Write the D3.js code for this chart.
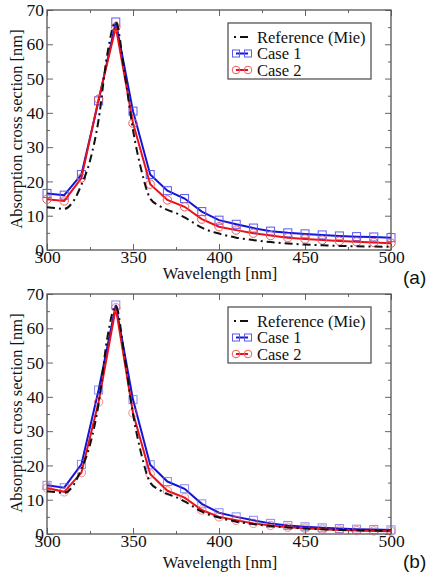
<!DOCTYPE html>
<html>
<head>
<meta charset="utf-8">
<script src="https://cdn.jsdelivr.net/npm/d3@7"></script>
<style>
  body { margin: 0; background: #fff; }
  svg { display: block; }
  text { font-family: "Liberation Serif", "Times New Roman", serif; fill: #111; }
  text.panel { font-family: "Liberation Sans", Arial, sans-serif; }
</style>
</head>
<body>
<script>
// data
const wavelengths = [300, 310, 320, 330, 340, 350, 360, 370, 380, 390, 400,
                     410, 420, 430, 440, 450, 460, 470, 480, 490, 500]

// reference (Mie) curve, drawn without markers
const mieWl = [300, 305, 310, 315, 320, 325, 330, 335, 340, 345, 350, 355, 360, 365, 370,
               375, 380, 385, 390, 395, 400, 410, 420, 430, 440, 450, 460, 470, 480, 490, 500]
const mieRef = [12.5, 12.2, 12, 14, 19, 26, 38, 57, 66.5, 52, 35, 23, 15, 13, 11.7,
                10.8, 9.5, 8, 6.5, 5.5, 4.8, 3.6, 2.9, 2.3, 1.9, 1.6, 1.4, 1.2, 1.1, 1.0, 0.9]

// panel (a)
const case1a = [16.5, 16, 22, 43.5, 66.5, 40.5, 22, 17.3, 15, 11.2, 8.7,
                7.5, 6.4, 5.5, 5.0, 4.7, 4.4, 4.1, 3.9, 3.8, 3.6]
const case2a = [14.8, 14.3, 21, 44, 65, 37, 19.2, 14.6, 12.6, 9.0, 6.8,
                5.8, 4.9, 4.2, 3.6, 3.2, 2.9, 2.6, 2.4, 2.2, 2.0]

// panel (b)
const case1b = [14.2, 13.5, 20.3, 42, 66.8, 39.2, 20.2, 15.3, 13.2, 8.8, 6.2,
                5.0, 4.0, 3.1, 2.5, 2.1, 1.8, 1.6, 1.4, 1.3, 1.2]
const case2b = [13.4, 12.3, 17.9, 38.5, 66, 35.3, 17.5, 12.6, 10.6, 7.0, 5.0,
                4.0, 3.1, 2.5, 2.0, 1.7, 1.4, 1.2, 1.0, 0.9, 0.8]

const xMajor = [300, 350, 400, 450, 500]
const xMinor = [325, 375, 425, 475]
const yMajor = [0, 10, 20, 30, 40, 50, 60, 70]
const yMinor = [5, 15, 25, 35, 45, 55, 65]
const legendNames = ["Reference (Mie)", "Case 1", "Case 2"]

const width = 426, height = 573

const svg = d3.select("body").append("svg")
  .attr("width", width)
  .attr("height", height)

svg.append("rect").attr("width", width).attr("height", height).attr("fill", "#fff")

const blue = "#1414d8", red = "#e8101a"
const blueMk = "#5a5aee", redMk = "#f05a5a"

function drawPanel(top, c1, c2, label, mkOpacity, titleDy) {
  const left = 47, right = 391, h = 240
  const x = d3.scaleLinear().domain([300, 500]).range([left, right])
  const y = d3.scaleLinear().domain([0, 70]).range([top + h, top])

  const g = svg.append("g")

  // ###########################
  // ticks on all four sides, inside
  // ###########################
  const axes = [
    { axis: d3.axisBottom(x), pos: top + h, horiz: true, labels: true, major: xMajor, minor: xMinor },
    { axis: d3.axisTop(x), pos: top, horiz: true, labels: false, major: xMajor, minor: xMinor },
    { axis: d3.axisLeft(y), pos: left, horiz: false, labels: true, major: yMajor, minor: yMinor },
    { axis: d3.axisRight(y), pos: right, horiz: false, labels: false, major: yMajor, minor: yMinor }
  ]
  axes.forEach(function (a) {
    const tr = a.horiz ? `translate(0,${a.pos})` : `translate(${a.pos},0)`
    const major = g.append("g").attr("transform", tr)
      .call(a.axis.tickValues(a.major).tickSize(-6).tickSizeOuter(0)
        .tickPadding(a.horiz ? 1 : 3)
        .tickFormat(a.labels ? d3.format("d") : ""))
    major.select(".domain").remove()
    major.selectAll("line").attr("stroke", "#666")
    major.selectAll("text").attr("font-size", 17.5)

    const minor = g.append("g").attr("transform", tr)
      .call(a.axis.tickValues(a.minor).tickSize(-3).tickFormat(""))
    minor.select(".domain").remove()
    minor.selectAll("line").attr("stroke", "#666")
  })

  g.append("rect")
    .attr("x", left).attr("y", top)
    .attr("width", right - left).attr("height", h)
    .attr("fill", "none").attr("stroke", "#555").attr("stroke-width", 1.3)

  // ######
  // curves
  // ######
  const line = d3.line().x(d => x(d[0])).y(d => y(d[1]))
  const pts1 = wavelengths.map((w, i) => [w, c1[i]])
  const pts2 = wavelengths.map((w, i) => [w, c2[i]])

  g.append("path")
    .datum(pts1)
    .attr("d", line).attr("fill", "none")
    .attr("stroke", blue).attr("stroke-width", 2)

  g.selectAll(".sq")
    .data(pts1)
    .enter().append("rect")
    .attr("x", d => x(d[0]) - 4).attr("y", d => y(d[1]) - 4)
    .attr("width", 8).attr("height", 8)
    .attr("fill", "none").attr("stroke", blueMk).attr("stroke-width", 1)
    .attr("opacity", mkOpacity)

  g.append("path")
    .datum(pts2)
    .attr("d", line).attr("fill", "none")
    .attr("stroke", red).attr("stroke-width", 2)

  g.selectAll(".ci")
    .data(pts2)
    .enter().append("circle")
    .attr("cx", d => x(d[0])).attr("cy", d => y(d[1])).attr("r", 4.2)
    .attr("fill", "none").attr("stroke", redMk).attr("stroke-width", 1)
    .attr("opacity", mkOpacity)

  g.append("path")
    .datum(mieWl.map((w, i) => [w, mieRef[i]]))
    .attr("d", d3.line().x(d => x(d[0])).y(d => y(d[1])).curve(d3.curveMonotoneX))
    .attr("fill", "none")
    .attr("stroke", "#111").attr("stroke-width", 2)
    .attr("stroke-dasharray", "8,4,2,4")

  // ##########
  // axis texts
  // ##########
  g.append("text")
    .attr("x", (left + right) / 2 + 1).attr("y", top + h + titleDy)
    .attr("text-anchor", "middle").attr("font-size", 16.5)
    .text("Wavelength [nm]")

  g.append("text")
    .attr("transform", `translate(22,${top + h / 2 - 1}) rotate(-90)`)
    .attr("text-anchor", "middle").attr("font-size", 16.5)
    .text("Absorption cross section [nm]")

  g.append("text")
    .attr("class", "panel")
    .attr("x", 403).attr("y", top + h + 34)
    .attr("font-size", 19)
    .text(label)

  // ######
  // legend
  // ######
  const lg = g.append("g").attr("transform", `translate(228,${top + 13})`)
  lg.append("rect")
    .attr("width", 143).attr("height", 56)
    .attr("fill", "#fff").attr("stroke", "#555").attr("stroke-width", 1.3)

  legendNames.forEach(function (name, i) {
    const cy = 14 + i * 16.5
    lg.append("text").attr("x", 29).attr("y", cy + 5.5)
      .attr("font-size", 16.5).text(name)
    if (i === 0) {
      lg.append("line").attr("x1", 6).attr("x2", 22).attr("y1", cy).attr("y2", cy)
        .attr("stroke", "#111").attr("stroke-width", 2).attr("stroke-dasharray", "2,4,8,4")
    } else {
      const col = i === 1 ? blue : red, mk = i === 1 ? blueMk : redMk
      lg.append("line").attr("x1", 8).attr("x2", 20).attr("y1", cy).attr("y2", cy)
        .attr("stroke", col).attr("stroke-width", 2)
      ;[8, 20].forEach(function (px) {
        if (i === 1) {
          lg.append("rect").attr("x", px - 3.5).attr("y", cy - 3.5)
            .attr("width", 7).attr("height", 7)
            .attr("fill", "none").attr("stroke", mk)
        } else {
          lg.append("circle").attr("cx", px).attr("cy", cy).attr("r", 3.8)
            .attr("fill", "none").attr("stroke", mk)
        }
      })
    }
  })
}

drawPanel(10, case1a, case2a, "(a)", 1, 29)
drawPanel(294, case1b, case2b, "(b)", 0.7, 34)
</script>
</body>
</html>
